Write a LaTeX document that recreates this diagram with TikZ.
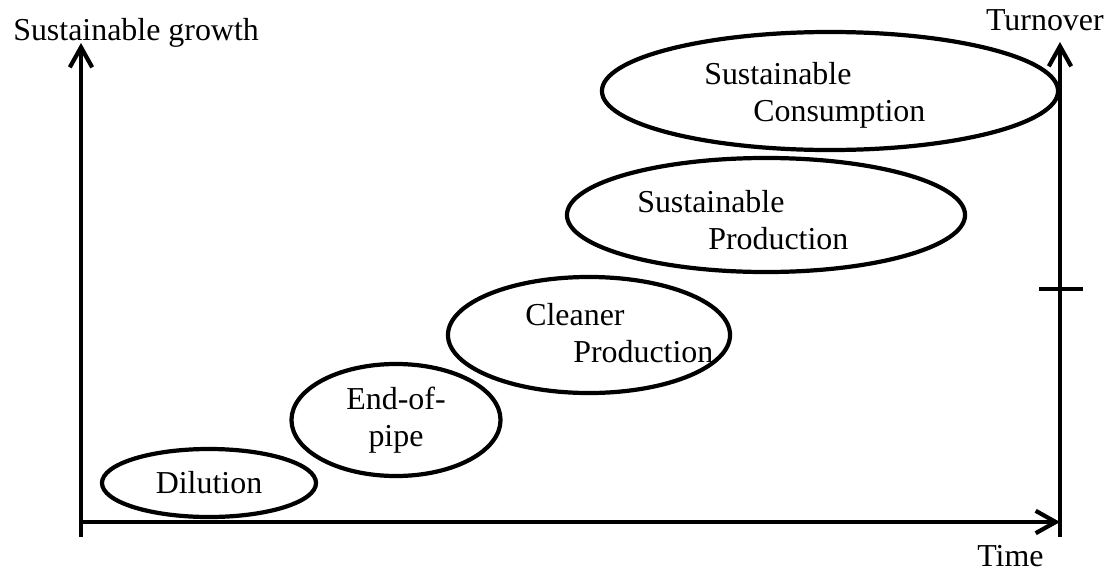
\documentclass[tikz,border=0pt]{standalone}
\usepackage{fontspec}
\setmainfont{Liberation Serif}
\usetikzlibrary{arrows.meta, shapes.geometric, positioning}
\tikzset{
  stage/.style = {draw, ellipse, line width=3pt, inner sep=0pt, align=center},
  axis/.style = {line width=3pt, -{Straight Barb[length=5mm, width=5.6mm]}},
  lbl/.style = {inner sep=0pt, align=left, anchor=north west}
}

\begin{document}
\begin{tikzpicture}[x=0.025cm, y=-0.025cm, font=\fontsize{22.7}{26.3}\selectfont]

  \useasboundingbox (0,0) rectangle (1106,573);

  %% Strategy stages over time

  % Axes
  \coordinate (origin) at (81,537);
  \coordinate (ytop) at (81,43);
  \coordinate (xleft) at (81,522);
  \coordinate (xright) at (1060,522);
  \coordinate (rbottom) at (1060,537);
  \coordinate (rtop) at (1060,42);
  \draw[axis] (origin) -- (ytop);
  \draw[axis] (xleft) -- (xright);
  \draw[axis] (rbottom) -- (rtop);

  % Tick on turnover axis
  \coordinate (tickl) at (1039,289);
  \coordinate (tickr) at (1083,289);
  \draw[line width=2.8pt] (tickl) -- (tickr);

  % Axis labels
  \node[anchor=base west, inner sep=0pt] (growth) at (13,40) {Sustainable growth};
  \node[anchor=base east, inner sep=0pt] (turnover) at (1104,30) {Turnover};
  \node[anchor=base west, inner sep=0pt] (time) at (977,566) {Time};

  % Stages
  \node[stage, minimum width=5.35cm, minimum height=1.7cm] (dilution) at (209,483) {Dilution};
  \node[stage, minimum width=5.225cm, minimum height=2.8cm] (endpipe) at (396,420) {End-of-\\pipe};

  \node[stage, minimum width=7.05cm, minimum height=2.9cm] (cleaner) at (589,335) {};
  \node[lbl] (cleanertext) at (525,303) {Cleaner\\\hspace*{1.2cm}Production};

  \node[stage, minimum width=9.95cm, minimum height=2.85cm] (susprod) at (766,215) {};
  \node[lbl] (susprodtext) at (637,190) {Sustainable\\\hspace*{1.775cm}Production};

  \node[stage, minimum width=11.4cm, minimum height=2.95cm] (suscons) at (830,91) {};
  \node[lbl] (susconstext) at (704,62) {Sustainable\\\hspace*{1.225cm}Consumption};

\end{tikzpicture}
\end{document}
